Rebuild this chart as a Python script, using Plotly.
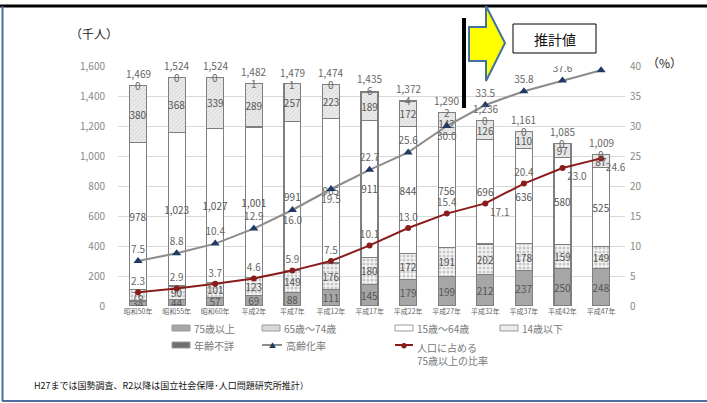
import plotly.graph_objects as go

# ---------------- data ----------------
categories = ["昭和50年", "昭和55年", "昭和60年", "平成2年", "平成7年", "平成12年", "平成17年",
              "平成22年", "平成27年", "平成32年", "平成37年", "平成42年", "平成47年"]
age75_plus = [34, 44, 57, 69, 88, 111, 145, 179, 199, 212, 237, 250, 248]
age65_74 = [76, 90, 101, 123, 149, 176, 180, 172, 191, 202, 178, 159, 149]
age15_64 = [978, 1023, 1027, 1001, 991, 965, 911, 844, 756, 696, 636, 580, 525]
age0_14 = [380, 368, 339, 289, 257, 223, 189, 172, 142, 126, 110, 97, 87]
age_unknown = [0, 0, 0, 1, 1, 0, 6, 4, 2, 0, 0, 0, 0]
totals = [1469, 1524, 1524, 1482, 1479, 1474, 1435, 1372, 1290, 1236, 1161, 1085, 1009]
aging_rate = [7.5, 8.8, 10.4, 12.9, 16.0, 19.5, 22.7, 25.6, 30.0, 33.5, 35.8, 37.6, 39.3]
ratio75 = [2.3, 2.9, 3.7, 4.6, 5.9, 7.5, 10.1, 13.0, 15.4, 17.1, 20.4, 23.0, 24.6]
left_ticks = [0, 200, 400, 600, 800, 1000, 1200, 1400, 1600]
right_ticks = [0, 5, 10, 15, 20, 25, 30, 35, 40]

# ---------------- style ----------------
W, H = 707, 403
L, R, T, B = 118, 82, 66, 97
PW, PH = W - L - R, H - T - B
FONT = "Noto Sans CJK JP, sans-serif"
TXT = "#666666"
OUT = "#7f7f7f"


def X(px):
    return (px - L) / PW


def Y(py):
    return (H - B - py) / PH


fig = go.Figure()

bar_common = dict(width=0.44, textposition="inside", insidetextanchor="middle",
                  textangle=0, constraintext="none",
                  textfont=dict(size=10, color="#555555", family=FONT))

fig.add_trace(go.Bar(x=categories, y=age75_plus, name="75歳以上", text=[f"{v:,}" for v in age75_plus],
                     marker=dict(color="#a6a6a6", line=dict(color=OUT, width=1.2)), **bar_common))
fig.add_trace(go.Bar(x=categories, y=age65_74, name="65歳～74歳", text=[f"{v:,}" for v in age65_74],
                     marker=dict(color="#f2f2f2", line=dict(color=OUT, width=1.2),
                                 pattern=dict(shape=".", fgcolor="#9a9a9a", bgcolor="#f4f4f4",
                                              size=4, solidity=0.45)), **bar_common))
fig.add_trace(go.Bar(x=categories, y=age15_64, name="15歳～64歳", text=[f"{v:,}" for v in age15_64],
                     marker=dict(color="white", line=dict(color=OUT, width=1.2)), **bar_common))
fig.add_trace(go.Bar(x=categories, y=age0_14, name="14歳以下", text=[f"{v:,}" for v in age0_14],
                     marker=dict(color="#e6e6e6", line=dict(color=OUT, width=1.2),
                                 pattern=dict(shape="/", fgcolor="#c4c4c4", bgcolor="#ececec",
                                              size=3, solidity=0.35)), **bar_common))
fig.add_trace(go.Bar(x=categories, y=age_unknown, name="年齢不詳", width=0.44,
                     marker=dict(color="#6f6f6f", line=dict(color=OUT, width=1.2))))

aging_pos = ["top center", "top center", "top center", "top center", "bottom center",
             "bottom center", "top center", "top center", "bottom center", "top center",
             "top center", "top center", "top center"]
fig.add_trace(go.Scatter(x=categories, y=aging_rate, yaxis="y2", name="高齢化率",
                         mode="lines+markers+text", text=[f"{v:.1f}" for v in aging_rate],
                         textposition=aging_pos, textfont=dict(size=10, color=TXT, family=FONT),
                         line=dict(color="#8c8c8c", width=2),
                         marker=dict(symbol="triangle-up", size=8, color="#1f3864")))

ratio_pos = ["top center"] * 9 + ["bottom right", "top center", "bottom right", "bottom right"]
fig.add_trace(go.Scatter(x=categories, y=ratio75, yaxis="y2", name="人口に占める75歳以上の比率",
                         mode="lines+markers+text", text=[f"{v:.1f}" for v in ratio75],
                         textposition=ratio_pos, textfont=dict(size=10, color=TXT, family=FONT),
                         line=dict(color="#8b1c1c", width=2),
                         marker=dict(symbol="circle", size=6, color="#8b1c1c")))

annotations = []
for c, t, u in zip(categories, totals, age_unknown):
    annotations.append(dict(x=c, y=t, xref="x", yref="y", text=f"{t:,}", showarrow=False,
                            yshift=12, font=dict(size=10, color=TXT, family=FONT)))
    annotations.append(dict(x=c, y=t, xref="x", yref="y", text=str(u), showarrow=False,
                            yshift=0, font=dict(size=10, color=TXT, family=FONT)))

# titles and notes
annotations += [
    dict(x=X(68), y=Y(33), xref="paper", yref="paper", text="（千人）", showarrow=False,
         xanchor="left", yanchor="middle", font=dict(size=12, color="#222", family=FONT)),
    dict(x=X(645), y=Y(62), xref="paper", yref="paper", text="（%）", showarrow=False,
         xanchor="left", yanchor="middle", font=dict(size=12, color="#222", family=FONT)),
    dict(x=X(554.5), y=Y(38.5), xref="paper", yref="paper", text="推計値", showarrow=False,
         xanchor="center", yanchor="middle", font=dict(size=14, color="#111", family=FONT)),
    dict(x=X(32), y=Y(385), xref="paper", yref="paper",
         text="H27までは国勢調査、R2以降は国立社会保障･人口問題研究所推計）", showarrow=False,
         xanchor="left", yanchor="middle", font=dict(size=9, color="#111", family=FONT)),
]

shapes = [
    # frame
    dict(type="line", xref="paper", yref="paper", x0=X(0), x1=X(707), y0=Y(6), y1=Y(6),
         line=dict(color="black", width=3)),
    dict(type="line", xref="paper", yref="paper", x0=X(2.5), x1=X(2.5), y0=Y(6), y1=Y(401),
         line=dict(color="#4f6d9a", width=2)),
    dict(type="line", xref="paper", yref="paper", x0=X(2), x1=X(707), y0=Y(401), y1=Y(401),
         line=dict(color="#4f6d9a", width=2)),
    # black divider
    dict(type="line", xref="paper", yref="paper", x0=X(464), x1=X(464), y0=Y(18), y1=Y(108),
         line=dict(color="black", width=4)),
    # yellow arrow
    dict(type="path", xref="paper", yref="paper",
         path=(f"M {X(469)} {Y(27)} L {X(486)} {Y(27)} L {X(486)} {Y(6)} L {X(505)} {Y(43)} "
               f"L {X(486)} {Y(81)} L {X(486)} {Y(61)} L {X(469)} {Y(61)} Z"),
         fillcolor="#ffff00", line=dict(color="#41719c", width=2)),
    # 推計値 box
    dict(type="rect", xref="paper", yref="paper", x0=X(513), x1=X(596), y0=Y(24), y1=Y(53),
         fillcolor="white", line=dict(color="black", width=1)),
]

# manual legend
leg_font = dict(size=10, color="#777777", family=FONT)
row1, row2 = 328, 345
leg_rects = [
    (172, row1, "#a6a6a6", "75歳以上"),
    (262, row1, "#d9d9d9", "65歳～74歳"),
    (395, row1, "white", "15歳～64歳"),
    (500, row1, "#ececec", "14歳以下"),
    (172, row2, "#6f6f6f", "年齢不詳"),
]
for x0, yy, col, label in leg_rects:
    shapes.append(dict(type="rect", xref="paper", yref="paper", x0=X(x0), x1=X(x0 + 18),
                       y0=Y(yy - 3), y1=Y(yy + 3), fillcolor=col,
                       line=dict(color="#9a9a9a", width=1)))
    annotations.append(dict(x=X(x0 + 20), y=Y(yy), xref="paper", yref="paper", text=label,
                            showarrow=False, xanchor="left", yanchor="middle", font=leg_font))

shapes.append(dict(type="line", xref="paper", yref="paper", x0=X(262), x1=X(282),
                   y0=Y(row2), y1=Y(row2), line=dict(color="#8c8c8c", width=2)))
annotations.append(dict(x=X(272), y=Y(row2), xref="paper", yref="paper", text="▲", showarrow=False,
                        xanchor="center", yanchor="middle", font=dict(size=7, color="#1f3864")))
annotations.append(dict(x=X(284), y=Y(row2), xref="paper", yref="paper", text="高齢化率",
                        showarrow=False, xanchor="left", yanchor="middle", font=leg_font))
shapes.append(dict(type="line", xref="paper", yref="paper", x0=X(395), x1=X(413),
                   y0=Y(row2), y1=Y(row2), line=dict(color="#8b1c1c", width=2)))
annotations.append(dict(x=X(404), y=Y(row2), xref="paper", yref="paper", text="●", showarrow=False,
                        xanchor="center", yanchor="middle", font=dict(size=6, color="#8b1c1c")))
annotations.append(dict(x=X(415), y=Y(row2 - 7), xref="paper", yref="paper",
                        text="人口に占める<br>75歳以上の比率", showarrow=False, align="left",
                        xanchor="left", yanchor="top", font=leg_font))

fig.update_layout(
    width=W, height=H,
    margin=dict(l=L, r=R, t=T, b=B, autoexpand=False),
    paper_bgcolor="white", plot_bgcolor="white",
    barmode="stack", showlegend=False,
    font=dict(family=FONT, color=TXT),
    xaxis=dict(type="category", range=[-0.52, 12.62], showgrid=False, ticks="",
               tickfont=dict(size=7, color=TXT, family=FONT), showline=False, zeroline=False),
    yaxis=dict(range=[0, 1600], tickvals=left_ticks, tickformat=",", showgrid=True,
               gridcolor="#d9d9d9", gridwidth=1, zeroline=False, ticks="",
               tickfont=dict(size=10, color="#888888", family=FONT), ticklabelstandoff=12),
    yaxis2=dict(range=[0, 40], tickvals=right_ticks, overlaying="y", side="right",
                showgrid=False, zeroline=False, ticks="",
                tickfont=dict(size=10, color="#888888", family=FONT), ticklabelstandoff=4),
    shapes=shapes,
    annotations=annotations,
)

fig.write_html("out.html", config={"displayModeBar": False},
               post_script="document.body.style.margin='0';")
